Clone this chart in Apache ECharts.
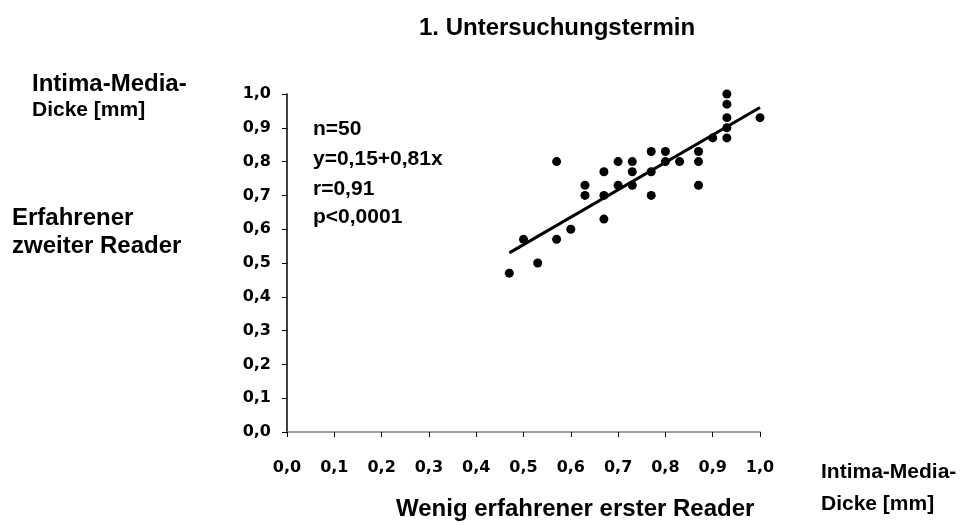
<!DOCTYPE html>
<html>
<head>
<meta charset="utf-8">
<script src="https://cdn.jsdelivr.net/npm/echarts@6/dist/echarts.min.js"></script>
<style>
  html, body { margin: 0; padding: 0; background: #fff; }
  #chart { width: 961px; height: 525px; }
</style>
</head>
<body>
<div id="chart"></div>
<script>
// IMT readings: less experienced first reader (x) vs experienced second reader (y)
const firstReader = [0.47, 0.50, 0.53, 0.57, 0.57, 0.60, 0.63, 0.63, 0.67, 0.67, 0.67,
  0.70, 0.70, 0.73, 0.73, 0.73, 0.77, 0.77, 0.77, 0.80, 0.80, 0.83, 0.87, 0.87, 0.87,
  0.90, 0.93, 0.93, 0.93, 0.93, 0.93, 1.00];
const secondReader = [0.47, 0.57, 0.50, 0.80, 0.57, 0.60, 0.73, 0.70, 0.77, 0.70, 0.63,
  0.80, 0.73, 0.80, 0.77, 0.73, 0.83, 0.77, 0.70, 0.83, 0.80, 0.80, 0.83, 0.80, 0.73,
  0.87, 1.00, 0.97, 0.93, 0.90, 0.87, 0.93];
const fitX = [0.47, 1.0];
const fitY = [0.53, 0.96];
const tickLabels = ['0,0', '0,1', '0,2', '0,3', '0,4', '0,5', '0,6', '0,7', '0,8', '0,9', '1,0'];
const statsLines = ['n=50', 'y=0,15+0,81x', 'r=0,91', 'p<0,0001'];

const FONT = '"Liberation Sans", Arial, sans-serif';
const TICK_FONT = '"DejaVu Sans", sans-serif';

const chart = echarts.init(document.getElementById('chart'));

const textStyle = (size) => ({ fontFamily: FONT, fontWeight: 'bold', fontSize: size, fill: '#000' });
const label = (text, left, top, size) => ({
  type: 'text', left: left, top: top, style: Object.assign({ text: text }, textStyle(size))
});

const statsTops = [119, 149, 179, 207];
const statsGraphics = statsLines.map((line, i) => label(line, 313, statsTops[i], 21));

chart.setOption({
  animation: false,
  backgroundColor: '#fff',
  grid: { left: 287, right: 201, top: 94, bottom: 93, containLabel: false },
  xAxis: {
    type: 'value', min: 0, max: 1, interval: 0.1,
    axisLine: { onZero: false, lineStyle: { color: '#808080', width: 1.5 } },
    axisTick: { show: true, length: 5, lineStyle: { color: '#000' } },
    axisLabel: {
      margin: 28, color: '#000', fontFamily: TICK_FONT, fontWeight: 'bold', fontSize: 16,
      formatter: (v) => tickLabels[Math.round(v * 10)]
    },
    splitLine: { show: false }
  },
  yAxis: {
    type: 'value', min: 0, max: 1, interval: 0.1,
    axisLine: { show: true, onZero: false, lineStyle: { color: '#000', width: 1.5 } },
    axisTick: { show: true, length: 5, lineStyle: { color: '#000' } },
    axisLabel: {
      margin: 16, color: '#000', fontFamily: TICK_FONT, fontWeight: 'bold', fontSize: 16,
      formatter: (v) => tickLabels[Math.round(v * 10)]
    },
    splitLine: { show: false }
  },
  series: [
    {
      type: 'scatter', symbol: 'circle', symbolSize: 9,
      itemStyle: { color: '#000', opacity: 1 },
      data: firstReader.map((x, i) => [x, secondReader[i]]),
      z: 3
    },
    {
      type: 'line', symbol: 'none',
      lineStyle: { color: '#000', width: 3 },
      data: fitX.map((x, i) => [x, fitY[i]]),
      z: 2
    }
  ],
  graphic: [
    label('1. Untersuchungstermin', 419, 16, 24),
    label('Intima-Media-', 32, 72, 24),
    label('Dicke [mm]', 32, 100, 21),
    label('Erfahrener', 12, 206, 24),
    label('zweiter Reader', 12, 234, 24),
    label('Intima-Media-', 821, 462, 21),
    label('Dicke [mm]', 821, 494, 21),
    label('Wenig erfahrener erster Reader', 396, 497, 24)
  ].concat(statsGraphics)
});
</script>
</body>
</html>
